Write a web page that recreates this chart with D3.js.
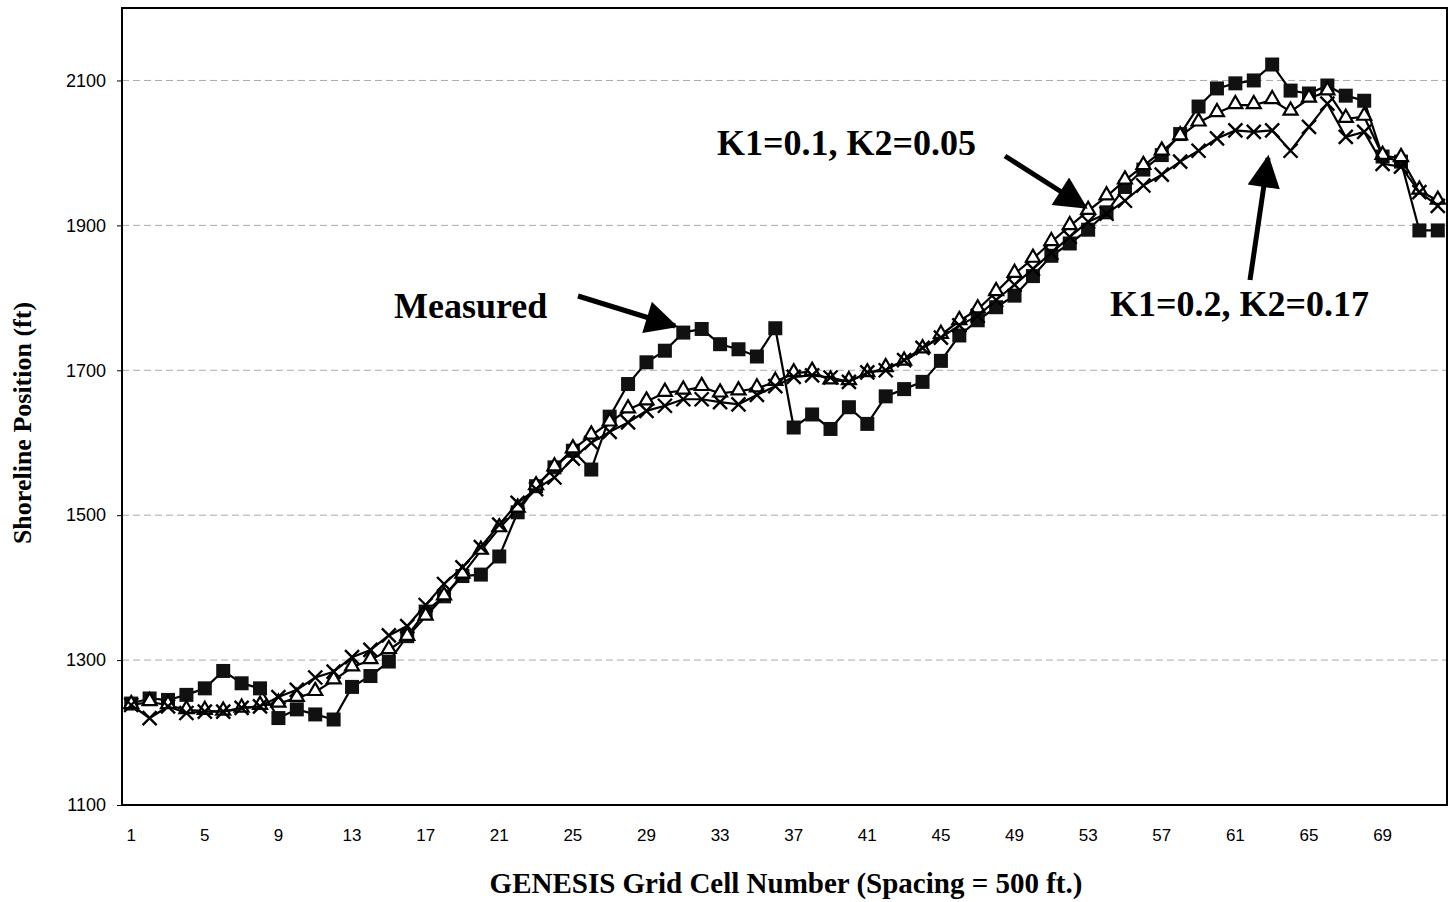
<!DOCTYPE html>
<html>
<head>
<meta charset="utf-8">
<script src="https://cdn.jsdelivr.net/npm/d3@7"></script>
<style>
  body { margin: 0; background: #fff; }
  svg text { fill: #000; }
</style>
</head>
<body>
<svg id="chart" width="1456" height="902"></svg>
<script>
// grid cells 1..72
var cells = d3.range(1, 73);
var xTickLabels = [1, 5, 9, 13, 17, 21, 25, 29, 33, 37, 41, 45, 49, 53, 57, 61, 65, 69];
var yTicks = [1100, 1300, 1500, 1700, 1900, 2100];

var measured = [1240, 1247, 1245, 1252, 1261, 1285, 1268, 1261, 1220, 1232, 1225, 1218, 1263, 1278, 1298, 1333, 1367, 1388, 1416, 1418,
  1443, 1504, 1540, 1566, 1589, 1563, 1636, 1681, 1711, 1727, 1752, 1757, 1736, 1729, 1719, 1758, 1621, 1639, 1619, 1649,
  1626, 1664, 1674, 1684, 1713, 1748, 1769, 1787, 1803, 1830, 1858, 1875, 1894, 1918, 1953, 1977, 1997, 2026, 2064, 2089,
  2096, 2100, 2122, 2086, 2082, 2093, 2079, 2072, 1995, 1988, 1893, 1893];

var runA = [1238, 1242, 1238, 1231, 1230, 1229, 1233, 1237, 1240, 1248, 1256, 1272, 1290, 1300, 1314, 1332, 1360, 1388, 1418, 1451,
  1482, 1509, 1540, 1566, 1591, 1610, 1628, 1646, 1657, 1669, 1672, 1677, 1668, 1671, 1675, 1684, 1696, 1698, 1686, 1685,
  1696, 1703, 1712, 1729, 1749, 1768, 1784, 1808, 1833, 1854, 1877, 1899, 1920, 1940, 1962, 1982, 2002, 2023, 2042, 2055,
  2066, 2066, 2073, 2057, 2075, 2085, 2047, 2050, 1996, 1993, 1948, 1934];

var runB = [1238, 1220, 1236, 1227, 1229, 1229, 1234, 1236, 1249, 1259, 1276, 1284, 1304, 1314, 1334, 1347, 1376, 1405, 1428, 1456,
  1487, 1517, 1536, 1552, 1578, 1600, 1615, 1628, 1644, 1651, 1660, 1660, 1656, 1653, 1666, 1678, 1691, 1693, 1690, 1684,
  1697, 1700, 1714, 1731, 1745, 1762, 1775, 1797, 1818, 1840, 1862, 1884, 1905, 1916, 1934, 1955, 1970, 1988, 2003, 2020,
  2031, 2029, 2031, 2003, 2036, 2068, 2022, 2029, 1985, 1981, 1946, 1927];

var svg = d3.select("#chart");
var m = {left: 122, right: 1447, top: 8, bottom: 805};
var serif = "Liberation Serif, Times New Roman, serif";
var sans = "Liberation Sans, Arial, sans-serif";

var x = d3.scaleBand().domain(cells).range([m.left, m.right]);
var y = d3.scaleLinear().domain([1100, 2200]).range([m.bottom, m.top]);
var cx = function(i) { return x(cells[i]) + x.bandwidth() / 2; };

// gridlines
svg.append("g").selectAll("line").data(yTicks.slice(1)).join("line")
  .attr("x1", m.left).attr("x2", m.right)
  .attr("y1", function(d) { return y(d); }).attr("y2", function(d) { return y(d); })
  .attr("stroke", "#aaa").attr("stroke-width", 1).attr("stroke-dasharray", "7,4");

// frame
svg.append("rect").attr("x", m.left).attr("y", m.top)
  .attr("width", m.right - m.left).attr("height", m.bottom - m.top)
  .attr("fill", "none").attr("stroke", "#000").attr("stroke-width", 2);

// y axis
var yAxis = d3.axisLeft(y).tickValues(yTicks).tickSize(5).tickPadding(11).tickFormat(d3.format("d"));
var gy = svg.append("g").attr("transform", "translate(" + m.left + ",0)").call(yAxis);
gy.select(".domain").remove();
gy.selectAll("text").attr("font-family", sans).attr("font-size", 18);

// x axis labels
var xAxis = d3.axisBottom(x).tickValues(xTickLabels).tickSize(0).tickPadding(24);
var gx = svg.append("g").attr("transform", "translate(0," + m.bottom + ")").call(xAxis);
gx.select(".domain").remove();
gx.selectAll("text").attr("font-family", sans).attr("font-size", 17);

var line = d3.line().x(function(d, i) { return cx(i); }).y(function(d) { return y(d); });

function drawLine(data) {
  svg.append("path").datum(data).attr("d", line)
    .attr("fill", "none").attr("stroke", "#000").attr("stroke-width", 2.2);
}

// Measured - filled squares
drawLine(measured);
svg.append("g").selectAll("rect").data(measured).join("rect")
  .attr("x", function(d, i) { return cx(i) - 7; })
  .attr("y", function(d) { return y(d) - 7; })
  .attr("width", 14).attr("height", 14).attr("fill", "#111");

// K1=0.1, K2=0.05 - open triangles
drawLine(runA);
var tri = d3.symbol().type(d3.symbolTriangle).size(85);
svg.append("g").selectAll("path").data(runA).join("path")
  .attr("d", tri)
  .attr("transform", function(d, i) { return "translate(" + cx(i) + "," + (y(d) - 1) + ")"; })
  .attr("fill", "#fff").attr("stroke", "#000").attr("stroke-width", 2.2);

// K1=0.2, K2=0.17 - crosses
drawLine(runB);
svg.append("g").selectAll("path").data(runB).join("path")
  .attr("d", function(d, i) {
    var px = cx(i), py = y(d), r = 7;
    return "M" + (px - r) + "," + (py - r) + "L" + (px + r) + "," + (py + r) +
      "M" + (px - r) + "," + (py + r) + "L" + (px + r) + "," + (py - r);
  })
  .attr("stroke", "#000").attr("stroke-width", 2.4).attr("fill", "none");

// axis titles
svg.append("text").attr("x", 786).attr("y", 893).attr("text-anchor", "middle")
  .attr("font-family", serif).attr("font-weight", "bold").attr("font-size", 29)
  .text("GENESIS Grid Cell Number (Spacing = 500 ft.)");
svg.append("text").attr("transform", "translate(31,423) rotate(-90)").attr("text-anchor", "middle")
  .attr("font-family", serif).attr("font-weight", "bold").attr("font-size", 26)
  .text("Shoreline Position (ft)");

// annotations
svg.append("defs").append("marker").attr("id", "head")
  .attr("viewBox", "0 0 10 10").attr("refX", 9).attr("refY", 5)
  .attr("markerWidth", 7).attr("markerHeight", 6.5).attr("markerUnits", "strokeWidth")
  .attr("orient", "auto")
  .append("path").attr("d", "M0,0L10,5L0,10z").attr("fill", "#000");

function note(label, tx, ty, x1, y1, x2, y2) {
  svg.append("text").attr("x", tx).attr("y", ty)
    .attr("font-family", serif).attr("font-weight", "bold").attr("font-size", 36)
    .text(label);
  svg.append("line").attr("x1", x1).attr("y1", y1).attr("x2", x2).attr("y2", y2)
    .attr("stroke", "#000").attr("stroke-width", 5).attr("marker-end", "url(#head)");
}
note("Measured", 394, 318, 578, 296, 675, 326);
note("K1=0.1, K2=0.05", 717, 155, 1005, 156, 1085, 207);
note("K1=0.2, K2=0.17", 1110, 316, 1250, 280, 1268, 158);
</script>
</body>
</html>
